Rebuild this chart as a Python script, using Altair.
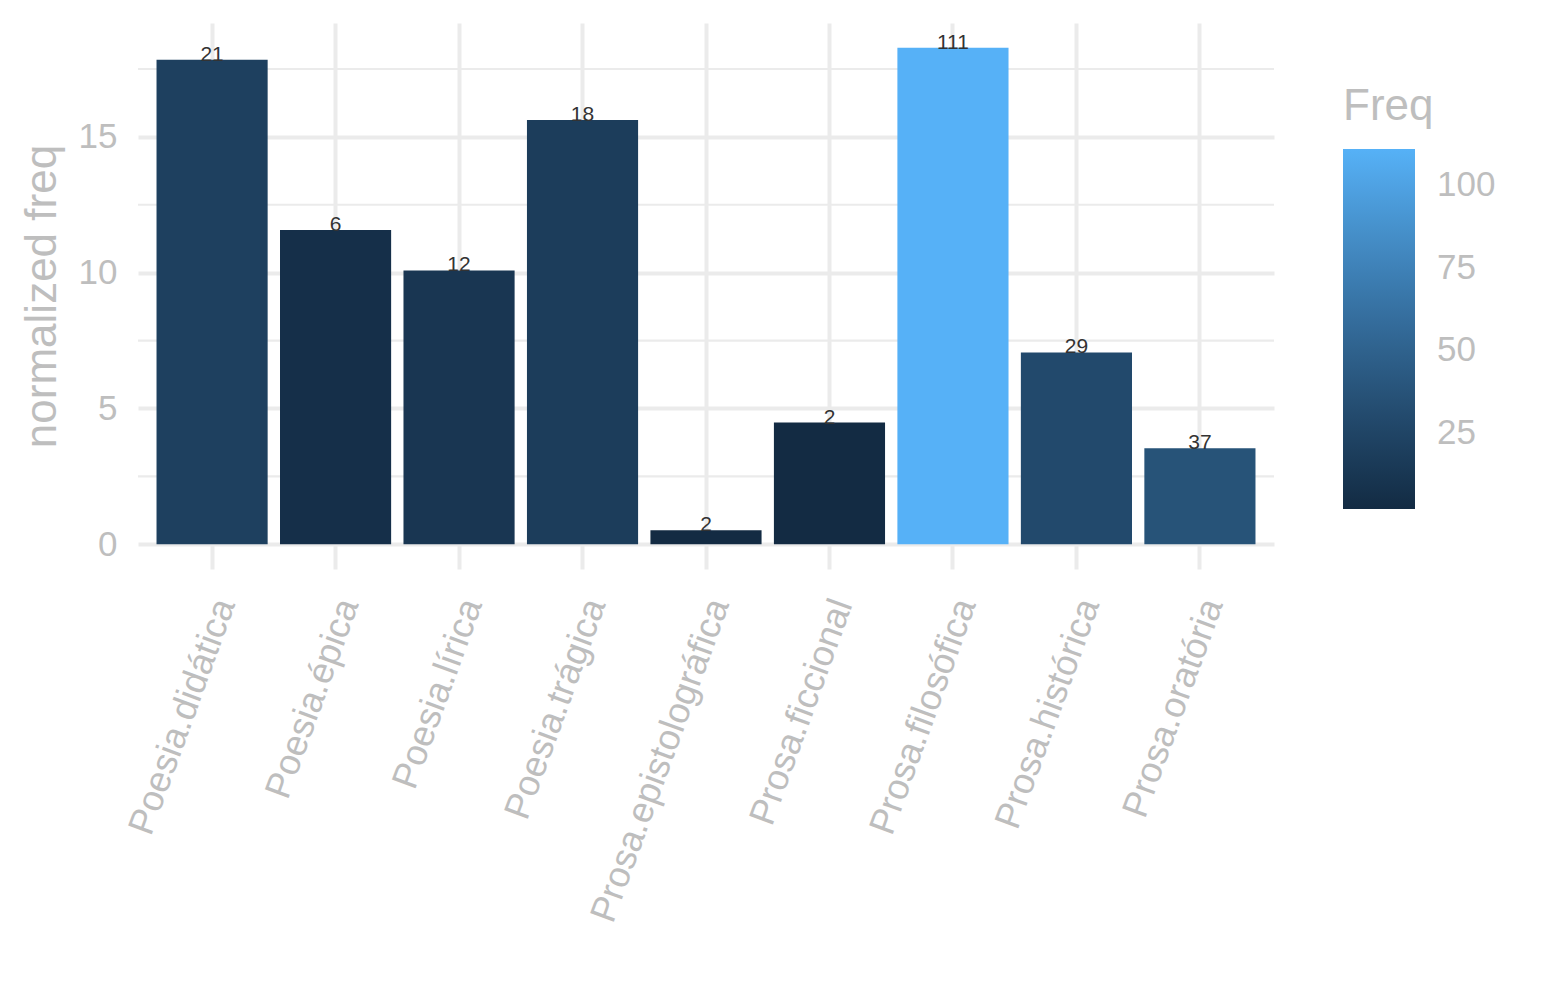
import altair as alt
import pandas as pd

categories = ["Poesia.didática", "Poesia.épica", "Poesia.lírica", "Poesia.trágica",
              "Prosa.epistolográfica", "Prosa.ficcional", "Prosa.filosófica",
              "Prosa.histórica", "Prosa.oratória"]
norm_freq = [17.84, 11.57, 10.08, 15.62, 0.51, 4.48, 18.28, 7.06, 3.53]
freq = [21, 6, 12, 18, 2, 2, 111, 29, 37]
major_breaks = [0, 5, 10, 15]
minor_breaks = [2.5, 7.5, 12.5, 17.5]
legend_breaks = [25, 50, 75, 100]

df = pd.DataFrame({"cat": categories, "nf": norm_freq, "Freq": freq})
minor_df = pd.DataFrame({"v": minor_breaks})

ymax = max(norm_freq)
pad = ymax * 0.05
ydom = [-pad, ymax + pad]

GREY = "#BEBEBE"
GRID = "#EBEBEB"
FONT = "Liberation Sans"

yscale = alt.Scale(domain=ydom, nice=False, zero=False)
xscale = alt.Scale(domain=categories, paddingInner=0.1, paddingOuter=0.15)

minor = alt.Chart(minor_df).mark_rule(color=GRID, strokeWidth=2.2).encode(
    y=alt.Y("v:Q", scale=yscale)
)

bars = alt.Chart(df).mark_bar().encode(
    x=alt.X("cat:N", scale=xscale, sort=categories, title=None,
            axis=alt.Axis(labelAngle=-70, labelAlign="right", labelBaseline="middle",
                          labelOffset=13, labelPadding=31, labelFontSize=36.5,
                          labelColor=GREY, labelFont=FONT, grid=True, gridColor=GRID,
                          gridWidth=4, ticks=False, domain=False, labelOverlap=False,
                          labelLimit=0)),
    y=alt.Y("nf:Q", scale=yscale, title="normalized freq",
            axis=alt.Axis(values=major_breaks, grid=True, gridColor=GRID, gridWidth=4,
                          ticks=False, domain=False, labelFontSize=35, labelColor=GREY,
                          labelFont=FONT, labelPadding=21, titleFontSize=44,
                          titleColor=GREY, titleFont=FONT, titleFontWeight="normal",
                          titlePadding=14)),
    y2=alt.datum(0),
    color=alt.Color("Freq:Q",
                    scale=alt.Scale(range=["#132B43", "#56B1F7"], interpolate="lab"),
                    legend=alt.Legend(orient="none", legendX=1205, legendY=62,
                                      values=legend_breaks, gradientLength=360,
                                      gradientThickness=72, titleFontSize=44,
                                      titleColor=GREY, titleFont=FONT,
                                      titleFontWeight="normal", titlePadding=20,
                                      labelFontSize=35, labelColor=GREY, labelFont=FONT,
                                      labelOffset=22, gradientStrokeWidth=0)),
)

labels = alt.Chart(df).mark_text(fontSize=21, color="#333333", font=FONT,
                                 baseline="alphabetic", dy=1).encode(
    x=alt.X("cat:N", scale=xscale, sort=categories),
    y=alt.Y("nf:Q", scale=yscale),
    text="Freq:Q",
)

chart = alt.layer(minor, bars, labels).properties(
    width=1136, height=546,
    autosize=alt.AutoSizeParams(type="none"),
    padding={"left": 130, "top": 15, "right": 250, "bottom": 400},
).configure_view(stroke=None)

chart.save("out.html", embed_options={"renderer": "svg", "actions": False})
